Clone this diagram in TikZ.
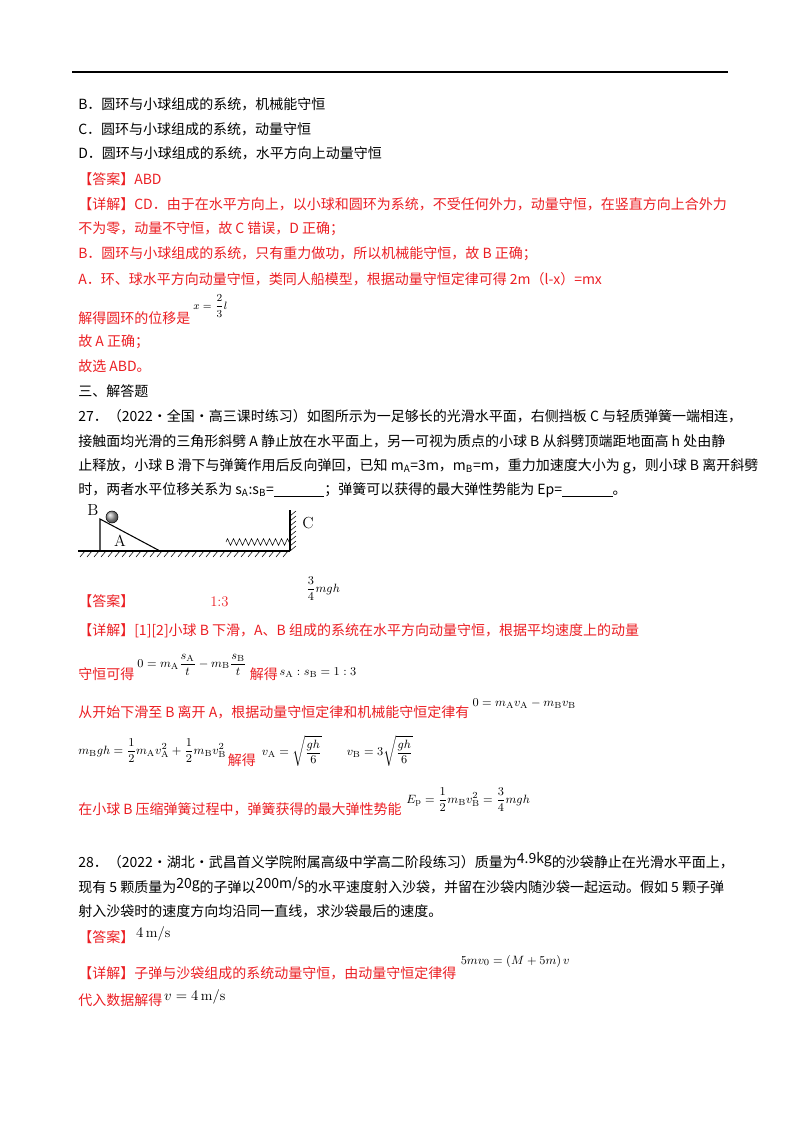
\documentclass[tikz,border=0pt]{standalone}
\usepackage{fontspec}
\usepackage{amsmath}
\usepackage{amssymb}
\newfontfamily\cjk{Noto Sans CJK SC}
\usetikzlibrary{decorations.pathmorphing}
\definecolor{ansred}{RGB}{235,30,35}
\tikzset{
  txt/.style={anchor=west, inner sep=0pt, font=\cjk\fontsize{10.5}{12}\selectfont},
  red txt/.style={txt, text=ansred},
  eq/.style={anchor=west, inner sep=0pt, font=\fontsize{9.5}{10}\selectfont}
}
\begin{document}
\begin{tikzpicture}[x=0.75pt, y=-0.75pt]
\useasboundingbox (0,0) rectangle (800,1132);

% 页眉横线
\draw [line width=1pt] (72,72) -- (728,72);

% 第26题 选项与解析
\node [txt] (optB) at (78,104) {B．圆环与小球组成的系统，机械能守恒};
\node [txt] (optC) at (78,129) {C．圆环与小球组成的系统，动量守恒};
\node [txt] (optD) at (78,153) {D．圆环与小球组成的系统，水平方向上动量守恒};
\node [red txt] (ans26) at (78,179) {【答案】ABD};
\node [red txt] (det26a) at (78,204) {【详解】CD．由于在水平方向上，以小球和圆环为系统，不受任何外力，动量守恒，在竖直方向上合外力};
\node [red txt] (det26b) at (78,229) {不为零，动量不守恒，故 C 错误，D 正确；};
\node [red txt] (det26c) at (78,254) {B．圆环与小球组成的系统，只有重力做功，所以机械能守恒，故 B 正确；};
\node [red txt] (det26d) at (78,279) {A．环、球水平方向动量守恒，类同人船模型，根据动量守恒定律可得 2m（l-x）=mx};
\node [red txt] (det26e) at (78,318) {解得圆环的位移是};
\node [eq, font=\fontsize{8}{9}\selectfont] (x26) at ([xshift=2pt,yshift=9pt]det26e.east) {$x=\dfrac{2}{3}l$};
\node [red txt] (det26f) at (78,342) {故 A 正确；};
\node [red txt] (det26g) at (78,366) {故选 ABD。};
\node [txt] (sec3) at (78,391) {三、解答题};

% 第27题
\node [txt] (q27a) at (78,416) {27．（2022•全国•高三课时练习）如图所示为一足够长的光滑水平面，右侧挡板 C 与轻质弹簧一端相连，};
\node [txt] (q27b) at (78,441) {接触面均光滑的三角形斜劈 A 静止放在水平面上，另一可视为质点的小球 B 从斜劈顶端距地面高 h 处由静};
\node [txt] (q27c) at (78,466) {止释放，小球 B 滑下与弹簧作用后反向弹回，已知 m\textsubscript{A}=3m，m\textsubscript{B}=m，重力加速度大小为 g，则小球 B 离开斜劈};
\node [txt] (q27d) at (78,490) {时，两者水平位移关系为 s\textsubscript{A}:s\textsubscript{B}=\underline{\hspace{3.6em}}；弹簧可以获得的最大弹性势能为 Ep=\underline{\hspace{3.6em}}。};

% 示意图: 地面、斜劈、小球、弹簧、挡板
\draw [thick] (78,551) -- (290,551);
\foreach \x in {80,87,...,288}
  \draw (\x,557) -- (\x+5,551);
\draw [thick] (100,551) -- (100,519) -- (160,551);
\shade [ball color=gray!70] (112,517) circle (6);
\draw (112,517) circle (6);
\draw [decorate, decoration={zigzag, segment length=4.5, amplitude=2.5}] (226,542) -- (290,542);
\draw [thick] (290,551) -- (290,510);
\foreach \y in {511,516,...,546}
  \draw (290,\y+5) -- (296,\y);
\node [font=\fontsize{12}{12}\selectfont, inner sep=0pt] (labB) at (93,510) {B};
\node [font=\fontsize{12}{12}\selectfont, inner sep=0pt] (labA) at (120,541) {A};
\node [font=\fontsize{12}{12}\selectfont, inner sep=0pt] (labC) at (308,523) {C};

% 第27题 答案与详解
\node [eq] (ep27) at (306,589) {$\dfrac{3}{4}mgh$};
\node [red txt] (ans27) at (78,601) {【答案】};
\node [red txt, font=\fontsize{11}{12}\selectfont] (ratio27) at (210,602) {1:3};
\node [red txt] (det27a) at (78,631) {【详解】[1][2]小球 B 下滑，A、B 组成的系统在水平方向动量守恒，根据平均速度上的动量};
\node [red txt] (det27b) at (78,674) {守恒可得};
\node [eq] (mom27) at ([xshift=2pt,yshift=7pt]det27b.east) {$0=m_{\mathrm A}\dfrac{s_{\mathrm A}}{t}-m_{\mathrm B}\dfrac{s_{\mathrm B}}{t}$};
\node [red txt] (sol27a) at ([xshift=2pt,yshift=-7pt]mom27.east) {解得};
\node [eq] (rat27) at ([xshift=1pt,yshift=1pt]sol27a.east) {$s_{\mathrm A}:s_{\mathrm B}=1:3$};
\node [red txt] (det27c) at (78,712) {从开始下滑至 B 离开 A，根据动量守恒定律和机械能守恒定律有};
\node [eq] (mom27b) at ([xshift=2pt,yshift=6pt]det27c.east) {$0=m_{\mathrm A}v_{\mathrm A}-m_{\mathrm B}v_{\mathrm B}$};
\node [eq] (en27) at (78,751) {$m_{\mathrm B}gh=\dfrac12 m_{\mathrm A}v_{\mathrm A}^2+\dfrac12 m_{\mathrm B}v_{\mathrm B}^2$};
\node [red txt] (sol27b) at ([xshift=1pt,yshift=-7pt]en27.east) {解得};
\node [eq] (va27) at ([xshift=4pt,yshift=7pt]sol27b.east) {$v_{\mathrm A}=\sqrt{\dfrac{gh}{6}}\qquad v_{\mathrm B}=3\sqrt{\dfrac{gh}{6}}$};
\node [red txt] (det27d) at (78,809) {在小球 B 压缩弹簧过程中，弹簧获得的最大弹性势能};
\node [eq] (epm27) at ([xshift=3pt,yshift=7pt]det27d.east) {$E_{\mathrm p}=\dfrac12 m_{\mathrm B}v_{\mathrm B}^2=\dfrac34 mgh$};

% 第28题
\node [txt] (q28a) at (78,861) {28．（2022•湖北•武昌首义学院附属高级中学高二阶段练习）质量为\raisebox{3pt}{4.9kg}的沙袋静止在光滑水平面上，};
\node [txt] (q28b) at (78,886) {现有 5 颗质量为\raisebox{3pt}{20g}的子弹以\raisebox{3pt}{200m/s}的水平速度射入沙袋，并留在沙袋内随沙袋一起运动。假如 5 颗子弹};
\node [txt] (q28c) at (78,911) {射入沙袋时的速度方向均沿同一直线，求沙袋最后的速度。};
\node [red txt] (ans28) at (78,937) {【答案】};
\node [eq, font=\fontsize{10.5}{12}\selectfont] (v28) at ([xshift=1pt,yshift=2pt]ans28.east) {$4\,\mathrm{m}/\mathrm{s}$};
\node [red txt] (det28a) at (78,973) {【详解】子弹与沙袋组成的系统动量守恒，由动量守恒定律得};
\node [eq] (mom28) at ([xshift=3pt,yshift=9pt]det28a.east) {$5mv_0=\left(M+5m\right)v$};
\node [red txt] (det28b) at (78,1000) {代入数据解得};
\node [eq, font=\fontsize{10.5}{12}\selectfont] (res28) at ([xshift=1pt,yshift=2pt]det28b.east) {$v=4\,\mathrm{m}/\mathrm{s}$};

\end{tikzpicture}
\end{document}
